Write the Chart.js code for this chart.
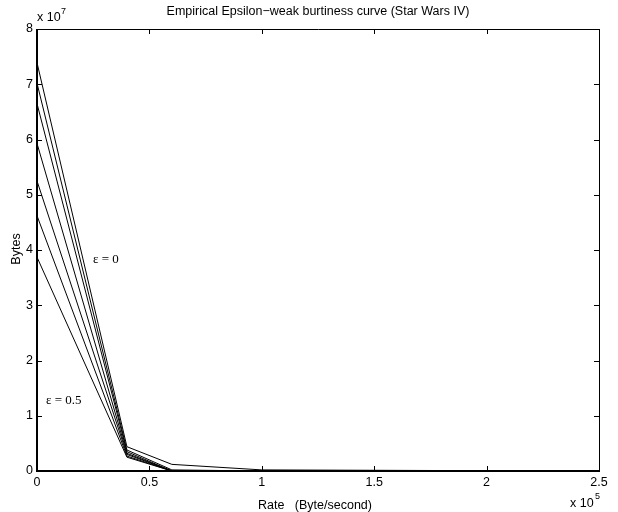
<!DOCTYPE html>
<html>
<head>
<meta charset="utf-8">
<script src="https://cdn.jsdelivr.net/npm/chart.js@4/dist/chart.umd.min.js"></script>
<style>
  body { margin: 0; background: #fff; }
  #wrap { width: 618px; height: 512px; }
</style>
</head>
<body>
<div id="wrap"><canvas id="Chart" width="618" height="512"></canvas></div>
<script>
// rate axis, in units of 10^5 Byte/second
const rates = [0, 0.4, 0.6, 1.0, 2.4];
// one curve per epsilon, bytes in units of 10^7
const epsilons = [0, 0.05, 0.1, 0.2, 0.3, 0.4, 0.5];
const curve0   = [7.39, 0.44, 0.12, 0.02, 0];
const curve005 = [7.02, 0.38, 0.02, 0, 0];
const curve01  = [6.65, 0.35, 0, 0, 0];
const curve02  = [5.93, 0.32, 0, 0, 0];
const curve03  = [5.25, 0.30, 0, 0, 0];
const curve04  = [4.62, 0.27, 0, 0, 0];
const curve05  = [3.87, 0.25, 0, 0, 0];
const curves = [curve0, curve005, curve01, curve02, curve03, curve04, curve05];

const xTicks = [0, 0.5, 1, 1.5, 2, 2.5];
const yTicks = [0, 1, 2, 3, 4, 5, 6, 7, 8];

const sans = "'Liberation Sans', Arial, sans-serif";
const serif = "'Liberation Serif', 'Times New Roman', serif";

// inward ticks, the box and the extra labels (matlab style)
const decorations = {
    id: "decorations",
    afterDraw(chart) {
        const ctx = chart.ctx;
        const area = chart.chartArea;
        const xs = chart.scales.x;
        const ys = chart.scales.y;
        ctx.save();
        ctx.strokeStyle = "#000";

        // box
        ctx.lineWidth = 1;
        ctx.beginPath();
        ctx.moveTo(area.left, area.top + 0.5);
        ctx.lineTo(area.right + 0.5, area.top + 0.5);
        ctx.lineTo(area.right + 0.5, area.bottom);
        ctx.stroke();
        ctx.lineWidth = 2;
        ctx.beginPath();
        ctx.moveTo(area.left, area.top);
        ctx.lineTo(area.left, area.bottom);
        ctx.lineTo(area.right + 1, area.bottom);
        ctx.stroke();

        // ticks
        ctx.lineWidth = 1;
        ctx.beginPath();
        xTicks.forEach(v => {
            const px = Math.round(xs.getPixelForValue(v)) + 0.5;
            ctx.moveTo(px, area.bottom);
            ctx.lineTo(px, area.bottom - 5);
            ctx.moveTo(px, area.top);
            ctx.lineTo(px, area.top + 5);
        });
        yTicks.forEach(v => {
            const py = Math.round(ys.getPixelForValue(v)) + 0.5;
            ctx.moveTo(area.left, py);
            ctx.lineTo(area.left + 5, py);
            ctx.moveTo(area.right, py);
            ctx.lineTo(area.right - 5, py);
        });
        ctx.stroke();

        ctx.fillStyle = "#000";
        ctx.textBaseline = "middle";

        // title
        ctx.font = "12.5px " + sans;
        ctx.textAlign = "center";
        ctx.fillText("Empirical Epsilon\u2212weak burtiness curve (Star Wars IV)", (area.left + area.right) / 2, 12);

        // axis labels
        ctx.fillText("Rate   (Byte/second)", 315, 506);
        ctx.save();
        ctx.translate(17, 249);
        ctx.rotate(-Math.PI / 2);
        ctx.fillText("Bytes", 0, 0);
        ctx.restore();

        // exponents
        ctx.textAlign = "left";
        ctx.fillText("x 10", 37, 18);
        ctx.fillText("x 10", 570, 504);
        ctx.font = "9px " + sans;
        ctx.fillText("7", 61, 12);
        ctx.fillText("5", 595, 497);

        // epsilon annotations
        ctx.font = "13px " + serif;
        ctx.fillText("\u03b5 = 0", 93, 260);
        ctx.fillText("\u03b5 = 0.5", 46, 401);
        ctx.restore();
    }
};

const datasets = curves.map((vals, i) => ({
    label: "eps " + epsilons[i],
    data: vals.map((v, j) => ({ x: rates[j], y: v })),
    borderColor: "#000",
    borderWidth: 1,
    pointRadius: 0,
    fill: false,
    tension: 0
}));

new Chart(document.getElementById("Chart"), {
    type: "line",
    data: { datasets: datasets },
    options: {
        responsive: false,
        animation: false,
        events: [],
        layout: { padding: { left: 0, right: 19, top: 29, bottom: 0 } },
        plugins: {
            legend: { display: false },
            title: { display: false },
            tooltip: { enabled: false }
        },
        scales: {
            x: {
                type: "linear",
                min: 0,
                max: 2.5,
                afterBuildTicks: s => { s.ticks = xTicks.map(v => ({ value: v })); },
                afterFit: s => { s.height = 41; },
                grid: { display: false, drawTicks: false },
                border: { display: false },
                ticks: {
                    color: "#000", padding: 4, maxRotation: 0,
                    font: { family: sans, size: 12.5 },
                    callback: v => String(v)
                }
            },
            y: {
                type: "linear",
                min: 0,
                max: 8,
                afterBuildTicks: s => { s.ticks = yTicks.map(v => ({ value: v })); },
                afterFit: s => { s.width = 37; },
                grid: { display: false, drawTicks: false },
                border: { display: false },
                ticks: {
                    color: "#000", padding: 4,
                    font: { family: sans, size: 12.5 },
                    callback: v => String(v)
                }
            }
        }
    },
    plugins: [decorations]
});
</script>
</body>
</html>
